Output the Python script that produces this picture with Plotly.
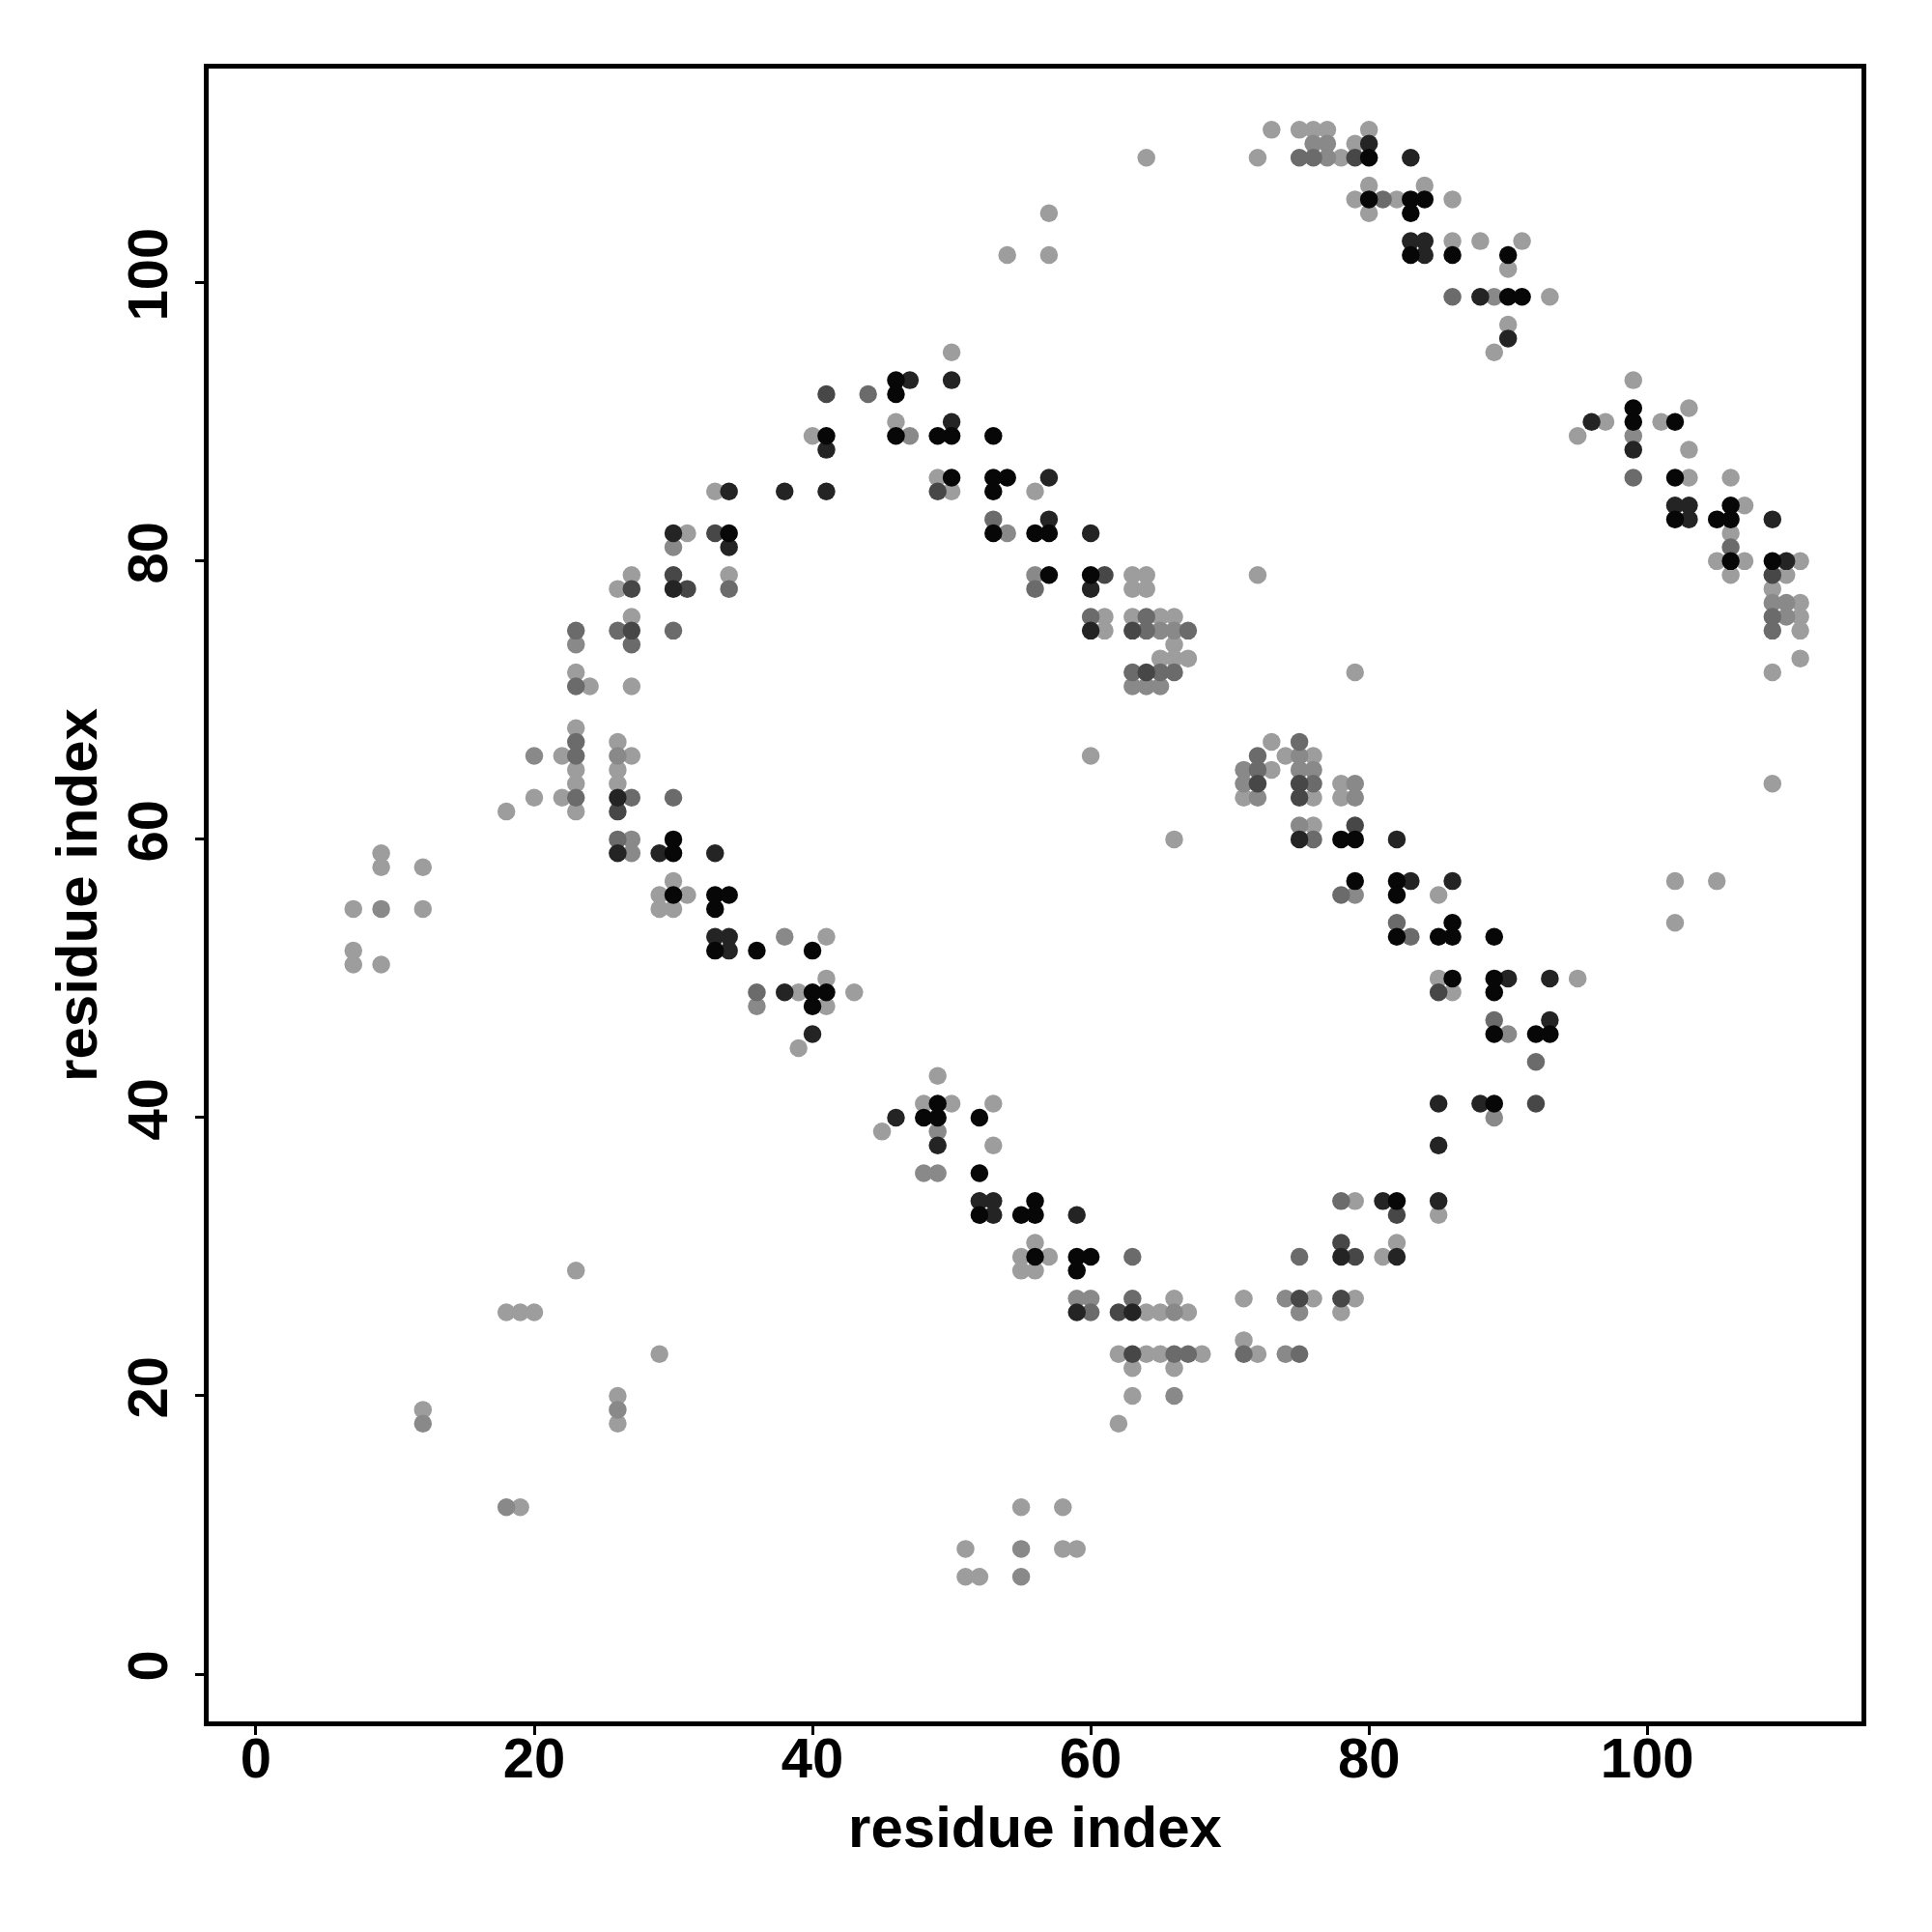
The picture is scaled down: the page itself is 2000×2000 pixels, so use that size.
import plotly.graph_objects as go

# contact map points: residue i (x), residue j (y), shade level (0 = black ... 5 = light gray)
x_idx = [
    41, 44, 40, 41, 41, 33, 34, 38, 41, 30, 31, 33, 34, 30, 34, 27, 26, 27, 30, 30, 31, 34, 34,
    23, 23, 26, 27, 27, 27, 30,
    23, 23, 24, 27, 23, 23, 23, 23, 23, 23, 23, 20, 22, 20, 22, 18,
    26, 26, 27, 26, 26, 26, 27, 26, 26, 27, 26, 27, 30,
    30, 29, 30, 33, 30, 29, 30, 31, 29, 30, 33, 34, 33,
    33, 34, 33, 34, 36, 38, 41, 40, 41,
    36, 36, 38, 39, 40, 41, 40, 41, 43, 40, 39, 45,
    9, 9, 12, 7, 9, 12, 7, 7, 9,
    73, 75, 76, 77, 80, 76, 77, 79, 80,
    64, 72, 75, 76, 77, 78, 79, 80, 83,
    80, 84, 79, 80, 81, 82, 83, 84, 80, 83, 83, 84, 83, 84,
    57, 54, 57, 50, 46, 47, 50, 46,
    46, 46, 47, 49, 50, 50, 53,
    49, 50, 49, 50, 53, 54, 53, 56, 57,
    53, 53, 54, 56, 57, 57, 60,
    56, 56, 57, 60, 61, 60, 63, 64, 63, 64, 72,
    60, 61, 60, 61, 63, 64, 65, 66,
    63, 64, 65, 66, 67, 66, 65, 66, 67,
    63, 64, 65, 66, 63, 64, 65,
    79, 60, 66,
    73, 75, 72, 73, 74, 71, 72, 71, 72, 71, 72,
    75, 76, 75, 76, 75, 76, 75, 76,
    78, 79, 78, 79,
    75, 76, 75, 76, 78, 79, 79, 82,
    79, 78, 79, 82, 83, 82,
    82, 82, 83,
    49, 48, 49, 50, 53, 46, 48, 49, 49, 49, 52, 53,
    48, 49, 52,
    52, 53, 56, 78, 79, 81, 82,
    52, 53, 55, 56, 59,
    56, 55, 56, 57, 55, 56,
    59, 60, 59, 63,
    59, 60, 59, 60, 62, 63, 63, 64, 65, 66, 66, 67,
    71, 74, 75, 76, 75, 78, 79, 78,
    75, 78, 78, 79, 81, 82, 82, 82,
    62, 63, 64, 65, 66, 67, 68, 63, 66, 63, 66, 62,
    71, 71, 72, 74, 75,
    55, 58, 51, 55, 58, 59, 51, 52, 55,
    23, 18, 19, 20, 29, 26, 26, 26, 12, 12, 18, 19,
    86, 86, 86, 88, 91, 90, 90,
    86, 88, 89, 90, 91, 93, 90, 90, 89,
    99, 99, 99, 99, 99, 99, 96, 97, 95, 101, 102, 103, 103,
    102, 103, 106, 102, 103, 102, 103, 105, 106, 106, 107, 109,
    106, 106, 105, 106, 107, 106, 109, 110, 111, 109, 110,
    109, 109, 110, 111, 109, 110, 111, 109, 111, 111,
    109, 109, 102, 105, 102,
    86, 85, 85, 86, 86, 89,
    85, 86, 85, 86, 89, 90, 89, 93, 95,
    89, 89, 90, 92, 93, 93, 92,
    85, 88, 89, 89, 92, 85, 85, 85,
]
y_idx = [
    92, 92, 89, 89, 88, 85, 85, 85, 85, 82, 82, 82, 82, 81, 81, 79, 78, 78, 79, 78, 78, 79, 78,
    75, 74, 75, 76, 75, 74, 75,
    72, 71, 71, 71, 68, 67, 66, 65, 64, 63, 62, 66, 66, 63, 63, 62,
    67, 66, 66, 65, 64, 63, 63, 62, 60, 60, 59, 59, 63,
    60, 59, 59, 59, 57, 56, 56, 56, 55, 55, 56, 56, 55,
    53, 53, 52, 52, 52, 53, 53, 52, 50,
    49, 48, 49, 49, 49, 49, 48, 48, 49, 46, 45, 39,
    59, 58, 58, 55, 55, 55, 52, 51, 51,
    111, 111, 111, 111, 111, 110, 110, 110, 110,
    109, 109, 109, 109, 109, 109, 109, 109, 109,
    107, 107, 106, 106, 106, 106, 106, 106, 105, 105, 103, 103, 102, 102,
    105, 102, 102, 95, 93, 93, 93, 92,
    90, 89, 89, 89, 90, 89, 89,
    86, 86, 85, 85, 86, 86, 85, 85, 86,
    83, 82, 82, 82, 83, 82, 82,
    79, 78, 79, 79, 79, 78, 79, 79, 78, 78, 79,
    76, 76, 75, 75, 76, 76, 76, 76,
    75, 75, 75, 75, 75, 74, 73, 73, 73,
    72, 72, 72, 72, 71, 71, 71,
    72, 66, 60,
    67, 67, 66, 65, 66, 65, 65, 64, 64, 63, 63,
    66, 66, 65, 65, 64, 64, 63, 63,
    64, 64, 63, 63,
    61, 61, 60, 60, 60, 61, 60, 60,
    57, 56, 56, 57, 57, 56,
    54, 53, 53,
    43, 41, 41, 41, 41, 40, 40, 40, 39, 38, 40, 38,
    36, 36, 36,
    34, 34, 34, 34, 34, 34, 34,
    33, 33, 33, 33, 33,
    31, 30, 30, 30, 29, 29,
    30, 30, 29, 30,
    27, 27, 26, 26, 26, 27, 26, 26, 26, 27, 26, 26,
    27, 27, 27, 27, 26, 27, 27, 26,
    30, 31, 30, 30, 30, 31, 30, 33,
    23, 23, 23, 23, 23, 23, 23, 22, 22, 20, 20, 18,
    24, 23, 23, 23, 23,
    12, 12, 9, 9, 9, 9, 7, 7, 7,
    29, 26, 26, 26, 23, 20, 19, 18, 19, 18, 12, 12,
    106, 103, 102, 103, 103, 102, 101,
    99, 99, 99, 99, 99, 99, 97, 96, 95,
    93, 91, 90, 89, 88, 86, 90, 90, 89, 90, 90, 91, 88,
    86, 86, 86, 84, 84, 83, 83, 83, 84, 83, 84, 83,
    82, 81, 80, 80, 80, 79, 80, 80, 80, 79, 79,
    78, 77, 77, 77, 76, 76, 76, 75, 75, 73,
    72, 64, 57, 57, 54,
    57, 56, 53, 54, 53, 53,
    50, 50, 49, 49, 50, 50, 49, 50, 50,
    47, 46, 46, 46, 46, 47, 44,
    41, 41, 41, 40, 41, 38, 34, 33,
]
shade = [
    2, 3, 5, 0, 1, 5, 1, 1, 1, 1, 5, 2, 0, 4, 1, 5, 5, 2, 2, 1, 2, 5, 3,
    3, 4, 3, 5, 2, 3, 3,
    5, 3, 5, 5, 5, 3, 3, 5, 5, 3, 5, 4, 5, 5, 5, 5,
    5, 4, 5, 5, 5, 1, 3, 2, 3, 4, 1, 4, 3,
    0, 1, 0, 1, 5, 5, 0, 5, 5, 5, 0, 0, 0,
    1, 1, 0, 1, 0, 4, 5, 0, 5,
    3, 4, 1, 5, 0, 0, 0, 5, 5, 1, 5, 5,
    5, 5, 5, 5, 4, 5, 5, 5, 5,
    5, 5, 5, 5, 5, 4, 4, 5, 1,
    5, 5, 3, 3, 4, 5, 2, 0, 1,
    5, 5, 5, 0, 3, 5, 0, 0, 5, 0, 1, 1, 0, 1,
    5, 5, 5, 5, 0, 1, 1, 0,
    5, 0, 4, 0, 1, 0, 0,
    5, 0, 2, 5, 0, 0, 0, 5, 1,
    3, 0, 4, 0, 1, 0, 1,
    4, 3, 0, 0, 2, 1, 5, 5, 5, 5, 5,
    3, 5, 1, 5, 5, 3, 5, 5,
    2, 3, 4, 4, 3, 5, 5, 5, 5,
    3, 2, 3, 3, 4, 4, 4,
    5, 5, 5,
    5, 3, 3, 5, 5, 4, 3, 4, 2, 5, 4,
    4, 5, 4, 4, 2, 3, 2, 5,
    5, 4, 5, 4,
    4, 5, 1, 3, 0, 2, 0, 1,
    0, 3, 4, 0, 1, 0,
    3, 0, 3,
    5, 5, 0, 5, 5, 1, 0, 0, 4, 1, 0, 5,
    4, 4, 0,
    1, 1, 0, 3, 5, 1, 0,
    0, 1, 0, 0, 1,
    5, 5, 0, 5, 5, 5,
    0, 0, 0, 3,
    4, 4, 1, 3, 2, 3, 1, 5, 5, 5, 4, 5,
    5, 4, 2, 5, 4, 2, 5, 5,
    3, 2, 1, 2, 5, 5, 1, 2,
    5, 2, 5, 5, 3, 3, 5, 5, 5, 5, 4, 5,
    5, 3, 5, 4, 3,
    5, 5, 5, 4, 5, 5, 5, 5, 4,
    5, 5, 5, 5, 5, 5, 4, 5, 5, 4, 4, 5,
    5, 5, 0, 5, 5, 0, 5,
    3, 1, 4, 0, 0, 5, 5, 1, 5,
    5, 0, 0, 4, 1, 3, 1, 5, 5, 5, 0, 5, 5,
    0, 5, 5, 1, 1, 0, 1, 0, 0, 0, 5, 1,
    5, 3, 5, 0, 5, 5, 0, 1, 5, 2, 5,
    5, 4, 4, 5, 3, 4, 5, 3, 5, 5,
    5, 5, 5, 5, 5,
    1, 5, 0, 0, 0, 0,
    5, 0, 2, 5, 0, 1, 0, 1, 5,
    3, 0, 4, 0, 0, 1, 3,
    1, 1, 0, 4, 2, 1, 1, 5,
]
shade_colors = ["#070707", "#242424", "#474747", "#6b6b6b", "#898989", "#9d9d9d"]
tick_values = [0, 20, 40, 60, 80, 100]
axis_title = "residue index"

n = min(len(x_idx), len(y_idx), len(shade))
order = sorted(range(n), key=lambda i: -shade[i])  # light points first, dark on top

fig = go.Figure(go.Scatter(
    x=[x_idx[i] for i in order],
    y=[y_idx[i] for i in order],
    mode="markers",
    marker=dict(size=18.5, color=[shade_colors[shade[i]] for i in order], line=dict(width=0)),
    hoverinfo="x+y",
))

font_family = "Liberation Sans, Arial, Helvetica, sans-serif"
axis_common = dict(
    range=[-3.4, 115.4],
    tickvals=tick_values,
    ticks="outside",
    ticklen=9,
    tickwidth=3,
    tickcolor="black",
    showline=True,
    mirror=True,
    linewidth=5,
    linecolor="black",
    showgrid=False,
    zeroline=False,
    tickfont=dict(family=font_family, size=58, color="black", weight="bold"),
)

fig.update_layout(
    width=2000,
    height=2000,
    margin=dict(l=216, r=73, t=71, b=218, pad=0),
    paper_bgcolor="white",
    plot_bgcolor="white",
    showlegend=False,
    xaxis=dict(axis_common, ticklabelstandoff=-26,
               title=dict(text=axis_title, standoff=21,
                          font=dict(family=font_family, size=60, color="black", weight="bold"))),
    yaxis=dict(axis_common, tickangle=-90, ticklabelstandoff=6,
               title=dict(text=axis_title, standoff=1,
                          font=dict(family=font_family, size=60, color="black", weight="bold"))),
)

fig.write_html("out.html", config={"displayModeBar": False},
               post_script="document.body.style.margin='0';")
